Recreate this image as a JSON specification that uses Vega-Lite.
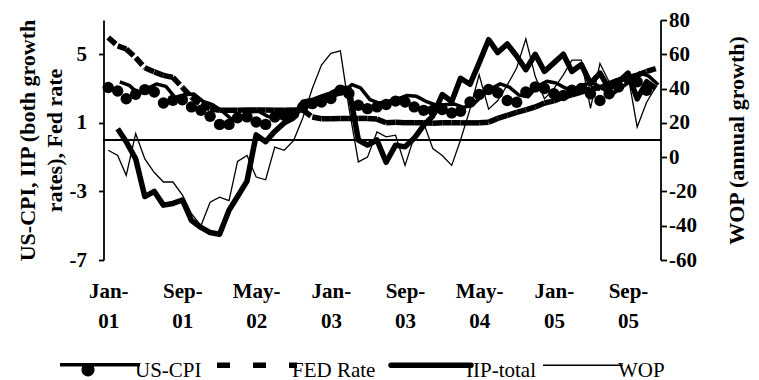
{
  "$schema": "https://vega.github.io/schema/vega-lite/v6.json",
  "width": 557,
  "height": 240,
  "autosize": {"type": "none"},
  "padding": {"left": 103.5, "top": 20, "right": 98.5, "bottom": 120},
  "background": "white",
  "config": {
    "view": {"stroke": null},
    "font": "Liberation Serif",
    "axis": {
      "grid": false,
      "domainColor": "black",
      "tickColor": "black",
      "labelColor": "black",
      "titleColor": "black",
      "labelFont": "Liberation Serif",
      "titleFont": "Liberation Serif",
      "labelFontWeight": "bold",
      "titleFontWeight": "bold",
      "labelFontSize": 21,
      "titleFontSize": 22,
      "domainWidth": 1.8,
      "tickWidth": 1.8,
      "labelFlush": false,
      "labelOverlap": false
    }
  },
  "data": {
    "format": {"parse": {"date": "date"}},
    "values": [
      {"date": "2001-01-01", "US-CPI": 3.06, "FED Rate": 5.98, "IIP-total": null, "WOP": 4},
      {"date": "2001-02-01", "US-CPI": 2.86, "FED Rate": 5.49, "IIP-total": 0.66, "WOP": 1},
      {"date": "2001-03-01", "US-CPI": 2.41, "FED Rate": 5.31, "IIP-total": -0.1, "WOP": -10.6},
      {"date": "2001-04-01", "US-CPI": 2.67, "FED Rate": 4.80, "IIP-total": -1.1, "WOP": 13.7},
      {"date": "2001-05-01", "US-CPI": 2.94, "FED Rate": 4.21, "IIP-total": -3.3, "WOP": -1},
      {"date": "2001-06-01", "US-CPI": 2.80, "FED Rate": 3.97, "IIP-total": -3.0, "WOP": -9},
      {"date": "2001-07-01", "US-CPI": 2.16, "FED Rate": 3.77, "IIP-total": -3.8, "WOP": -14.5},
      {"date": "2001-08-01", "US-CPI": 2.32, "FED Rate": 3.65, "IIP-total": -3.7, "WOP": -14.5},
      {"date": "2001-09-01", "US-CPI": 2.35, "FED Rate": 3.07, "IIP-total": -3.5, "WOP": -22},
      {"date": "2001-10-01", "US-CPI": 1.93, "FED Rate": 2.49, "IIP-total": -4.7, "WOP": -33},
      {"date": "2001-11-01", "US-CPI": 1.73, "FED Rate": 2.09, "IIP-total": -5.1, "WOP": -40},
      {"date": "2001-12-01", "US-CPI": 1.38, "FED Rate": 1.82, "IIP-total": -5.4, "WOP": -26.3},
      {"date": "2002-01-01", "US-CPI": 0.91, "FED Rate": 1.73, "IIP-total": -5.5, "WOP": -23.3},
      {"date": "2002-02-01", "US-CPI": 0.91, "FED Rate": 1.74, "IIP-total": -4.1, "WOP": -25.3},
      {"date": "2002-03-01", "US-CPI": 1.30, "FED Rate": 1.73, "IIP-total": -3.3, "WOP": -2.5},
      {"date": "2002-04-01", "US-CPI": 1.35, "FED Rate": 1.75, "IIP-total": -2.4, "WOP": 1},
      {"date": "2002-05-01", "US-CPI": 1.05, "FED Rate": 1.75, "IIP-total": 0.3, "WOP": -11.6},
      {"date": "2002-06-01", "US-CPI": 0.91, "FED Rate": 1.75, "IIP-total": -0.1, "WOP": -13.2},
      {"date": "2002-07-01", "US-CPI": 1.34, "FED Rate": 1.73, "IIP-total": 0.5, "WOP": 5.9},
      {"date": "2002-08-01", "US-CPI": 1.44, "FED Rate": 1.74, "IIP-total": 1.0, "WOP": 4},
      {"date": "2002-09-01", "US-CPI": 1.54, "FED Rate": 1.75, "IIP-total": 1.3, "WOP": 9.8},
      {"date": "2002-10-01", "US-CPI": 1.93, "FED Rate": 1.75, "IIP-total": 2.2, "WOP": 23},
      {"date": "2002-11-01", "US-CPI": 2.12, "FED Rate": 1.34, "IIP-total": 2.3, "WOP": 40},
      {"date": "2002-12-01", "US-CPI": 2.22, "FED Rate": 1.24, "IIP-total": 2.5, "WOP": 53.7},
      {"date": "2003-01-01", "US-CPI": 2.42, "FED Rate": 1.24, "IIP-total": 2.7, "WOP": 60.5},
      {"date": "2003-02-01", "US-CPI": 2.91, "FED Rate": 1.26, "IIP-total": 3.0, "WOP": 62},
      {"date": "2003-03-01", "US-CPI": 2.71, "FED Rate": 1.25, "IIP-total": 3.0, "WOP": 29},
      {"date": "2003-04-01", "US-CPI": 2.03, "FED Rate": 1.26, "IIP-total": 0.0, "WOP": -2.8},
      {"date": "2003-05-01", "US-CPI": 1.83, "FED Rate": 1.26, "IIP-total": -0.3, "WOP": 0},
      {"date": "2003-06-01", "US-CPI": 1.93, "FED Rate": 1.22, "IIP-total": 0.0, "WOP": 14.7},
      {"date": "2003-07-01", "US-CPI": 2.07, "FED Rate": 1.01, "IIP-total": -1.3, "WOP": 11.8},
      {"date": "2003-08-01", "US-CPI": 2.27, "FED Rate": 1.03, "IIP-total": -0.3, "WOP": 12.8},
      {"date": "2003-09-01", "US-CPI": 2.22, "FED Rate": 1.01, "IIP-total": -0.4, "WOP": -4.8},
      {"date": "2003-10-01", "US-CPI": 1.93, "FED Rate": 1.01, "IIP-total": 0.1, "WOP": 11.8},
      {"date": "2003-11-01", "US-CPI": 1.73, "FED Rate": 1.00, "IIP-total": 0.85, "WOP": 20},
      {"date": "2003-12-01", "US-CPI": 1.73, "FED Rate": 0.98, "IIP-total": 1.4, "WOP": 5},
      {"date": "2004-01-01", "US-CPI": 1.78, "FED Rate": 1.00, "IIP-total": 2.65, "WOP": 1},
      {"date": "2004-02-01", "US-CPI": 1.58, "FED Rate": 1.01, "IIP-total": 2.25, "WOP": -4.8},
      {"date": "2004-03-01", "US-CPI": 1.68, "FED Rate": 1.00, "IIP-total": 3.6, "WOP": 10},
      {"date": "2004-04-01", "US-CPI": 2.22, "FED Rate": 1.00, "IIP-total": 3.25, "WOP": 28},
      {"date": "2004-05-01", "US-CPI": 2.66, "FED Rate": 1.00, "IIP-total": 4.5, "WOP": 48},
      {"date": "2004-06-01", "US-CPI": 2.95, "FED Rate": 1.03, "IIP-total": 5.85, "WOP": 28},
      {"date": "2004-07-01", "US-CPI": 2.76, "FED Rate": 1.26, "IIP-total": 5.1, "WOP": 33},
      {"date": "2004-08-01", "US-CPI": 2.30, "FED Rate": 1.43, "IIP-total": 5.6, "WOP": 42},
      {"date": "2004-09-01", "US-CPI": 2.20, "FED Rate": 1.61, "IIP-total": 4.9, "WOP": 52},
      {"date": "2004-10-01", "US-CPI": 2.80, "FED Rate": 1.76, "IIP-total": 4.1, "WOP": 69},
      {"date": "2004-11-01", "US-CPI": 3.10, "FED Rate": 1.93, "IIP-total": 5.0, "WOP": 47},
      {"date": "2004-12-01", "US-CPI": 3.00, "FED Rate": 2.16, "IIP-total": 4.0, "WOP": 34},
      {"date": "2005-01-01", "US-CPI": 2.70, "FED Rate": 2.28, "IIP-total": 4.5, "WOP": 40},
      {"date": "2005-02-01", "US-CPI": 2.60, "FED Rate": 2.50, "IIP-total": 5.0, "WOP": 48},
      {"date": "2005-03-01", "US-CPI": 2.90, "FED Rate": 2.63, "IIP-total": 4.0, "WOP": 56.6},
      {"date": "2005-04-01", "US-CPI": 3.00, "FED Rate": 2.79, "IIP-total": 4.4, "WOP": 56.6},
      {"date": "2005-05-01", "US-CPI": 2.70, "FED Rate": 3.00, "IIP-total": 3.3, "WOP": 28.4},
      {"date": "2005-06-01", "US-CPI": 2.30, "FED Rate": 3.04, "IIP-total": 3.9, "WOP": 54.7},
      {"date": "2005-07-01", "US-CPI": 2.70, "FED Rate": 3.26, "IIP-total": 3.0, "WOP": 44},
      {"date": "2005-08-01", "US-CPI": 3.10, "FED Rate": 3.50, "IIP-total": 3.4, "WOP": 46},
      {"date": "2005-09-01", "US-CPI": 3.60, "FED Rate": 3.62, "IIP-total": 3.9, "WOP": 47.9},
      {"date": "2005-10-01", "US-CPI": 3.40, "FED Rate": 3.78, "IIP-total": 2.4, "WOP": 17.6},
      {"date": "2005-11-01", "US-CPI": 2.90, "FED Rate": 4.00, "IIP-total": 3.4, "WOP": 32},
      {"date": "2005-12-01", "US-CPI": null, "FED Rate": 4.16, "IIP-total": 3.0, "WOP": 41}
    ]
  },
  "layer": [
    {
      "layer": [
        {
          "mark": {"type": "rule", "color": "black", "strokeWidth": 1.8},
          "encoding": {
            "y": {"datum": 0, "type": "quantitative", "scale": {"domain": [-7, 7], "nice": false, "zero": false}}
          }
        },
        {
          "mark": {"type": "line", "strokeWidth": 5.5, "strokeJoin": "round"},
          "encoding": {
            "x": {"field": "date", "type": "temporal", "scale": {"type": "utc", "domain": [{"year": 2000, "month": 12, "date": 16, "hours": 12, "utc": true}, {"year": 2005, "month": 12, "date": 16, "hours": 12, "utc": true}]}},
            "y": {
              "field": "IIP-total",
              "type": "quantitative",
              "scale": {"domain": [-7, 7], "nice": false, "zero": false},
              "axis": {
                "orient": "left",
                "values": [-7, -5, -3, -1, 1, 3, 5, 7],
                "labelExpr": "'' + datum.value",
                "labelOverlap": false,
                "labelFlush": false,
                "labelBound": false,
                "tickSize": 5,
                "ticks": true,
                "domain": true,
                "labelPadding": 12,
                "title": ["US-CPI, IIP (both growth", "rates), Fed rate"],
                "titleLineHeight": 27,
                "titlePadding": 3
              }
            },
            "color": {"datum": "IIP-total", "type": "nominal", "scale": {"domain": ["US-CPI", "FED Rate", "IIP-total", "WOP"], "range": ["black", "black", "black", "black"]}}
          }
        },
        {
          "transform": [
            {
              "window": [
                {"op": "lead", "field": "FED Rate", "as": "fedNext"},
                {"op": "lead", "field": "date", "as": "dateNext"}
              ],
              "sort": [{"field": "date", "order": "ascending"}]
            },
            {"filter": "datum.fedNext != null"}
          ],
          "mark": {"type": "rule", "strokeWidth": 5.5, "strokeDash": [10, 3], "strokeCap": "butt"},
          "encoding": {
            "x": {"field": "date", "type": "temporal", "scale": {"type": "utc", "domain": [{"year": 2000, "month": 12, "date": 16, "hours": 12, "utc": true}, {"year": 2005, "month": 12, "date": 16, "hours": 12, "utc": true}]}},
            "x2": {"field": "dateNext"},
            "y": {"field": "FED Rate", "type": "quantitative", "scale": {"domain": [-7, 7], "nice": false, "zero": false}},
            "y2": {"field": "fedNext"},
            "color": {"datum": "FED Rate", "type": "nominal", "scale": {"domain": ["US-CPI", "FED Rate", "IIP-total", "WOP"], "range": ["black", "black", "black", "black"]}}
          }
        },
        {
          "mark": {"type": "line", "strokeWidth": 3.5, "strokeJoin": "round", "xOffset": 11.6, "yOffset": -5.6},
          "encoding": {
            "x": {"field": "date", "type": "temporal", "scale": {"type": "utc", "domain": [{"year": 2000, "month": 12, "date": 16, "hours": 12, "utc": true}, {"year": 2005, "month": 12, "date": 16, "hours": 12, "utc": true}]}},
            "y": {"field": "US-CPI", "type": "quantitative", "scale": {"domain": [-7, 7], "nice": false, "zero": false}},
            "color": {"datum": "US-CPI", "type": "nominal", "scale": {"domain": ["US-CPI", "FED Rate", "IIP-total", "WOP"], "range": ["black", "black", "black", "black"]}}
          }
        },
        {
          "mark": {"type": "point", "shape": "circle", "filled": true, "size": 130, "color": "black", "opacity": 1, "strokeWidth": 0},
          "encoding": {
            "x": {"field": "date", "type": "temporal", "scale": {"type": "utc", "domain": [{"year": 2000, "month": 12, "date": 16, "hours": 12, "utc": true}, {"year": 2005, "month": 12, "date": 16, "hours": 12, "utc": true}]}},
            "y": {"field": "US-CPI", "type": "quantitative", "scale": {"domain": [-7, 7], "nice": false, "zero": false}}
          }
        }
      ]
    },
    {
      "mark": {"type": "line", "strokeWidth": 1.3, "strokeJoin": "miter"},
      "encoding": {
        "x": {
          "field": "date",
          "type": "temporal",
          "scale": {"type": "utc", "domain": [{"year": 2000, "month": 12, "date": 16, "hours": 12, "utc": true}, {"year": 2005, "month": 12, "date": 16, "hours": 12, "utc": true}]},
          "axis": {
            "orient": "bottom",
            "values": [
              {"year": 2001, "month": 1, "date": 1, "utc": true},
              {"year": 2001, "month": 9, "date": 1, "utc": true},
              {"year": 2002, "month": 5, "date": 1, "utc": true},
              {"year": 2003, "month": 1, "date": 1, "utc": true},
              {"year": 2003, "month": 9, "date": 1, "utc": true},
              {"year": 2004, "month": 5, "date": 1, "utc": true},
              {"year": 2005, "month": 1, "date": 1, "utc": true},
              {"year": 2005, "month": 9, "date": 1, "utc": true}
            ],
            "labelExpr": "[utcFormat(datum.value, '%b') + '-', utcFormat(datum.value, '%y')]",
            "labelOverlap": false,
            "labelFlush": false,
            "domain": false,
            "ticks": false,
            "labelPadding": 20,
            "labelLineHeight": 30,
            "title": null
          }
        },
        "y": {
          "field": "WOP",
          "type": "quantitative",
          "scale": {"domain": [-60, 80], "nice": false, "zero": false},
          "axis": {
            "orient": "right",
            "values": [-60, -40, -20, 0, 20, 40, 60, 80],
            "labelExpr": "'' + datum.value",
            "labelOverlap": false,
            "labelFlush": false,
            "tickSize": 6,
            "ticks": true,
            "domain": true,
            "labelPadding": 2,
            "title": "WOP (annual growth)",
            "titleAngle": 270,
            "titleBaseline": "top",
            "titlePadding": 30
          }
        },
        "color": {
          "datum": "WOP",
          "type": "nominal",
          "scale": {"domain": ["US-CPI", "FED Rate", "IIP-total", "WOP"], "range": ["black", "black", "black", "black"]},
          "legend": {
            "orient": "none",
            "legendX": -43.5,
            "legendY": 334,
            "direction": "horizontal",
            "title": null,
            "symbolType": "stroke",
            "symbolSize": 6400,
            "symbolOffset": 29.5,
            "labelFont": "Liberation Serif",
            "labelFontSize": 21,
            "labelFontWeight": "normal",
            "labelColor": "black",
            "labelOffset": 24.5,
            "columnPadding": 4,
            "encode": {
              "labels": {"update": {"dy": {"value": 6}}},
              "symbols": {
                "update": {
                  "shape": {"signal": "datum.value === 'US-CPI' ? 'M-1,0L1,0M-0.18,0.125A0.12,0.12 0 1,1 -0.42,0.125A0.12,0.12 0 1,1 -0.18,0.125Z' : 'stroke'"},
                  "fill": {"signal": "datum.value === 'US-CPI' ? 'black' : 'transparent'"},
                  "stroke": {"value": "black"},
                  "strokeWidth": {"signal": "datum.value === 'US-CPI' ? 3.5 : datum.value === 'WOP' ? 1.3 : 5.5"},
                  "strokeDash": {"signal": "datum.value === 'FED Rate' ? [13, 23] : [1, 0]"},
                  "strokeCap": {"signal": "datum.value === 'IIP-total' ? 'round' : 'butt'"},
                  "opacity": {"value": 1}
                }
              }
            }
          }
        }
      }
    }
  ],
  "resolve": {"scale": {"y": "independent"}}
}
